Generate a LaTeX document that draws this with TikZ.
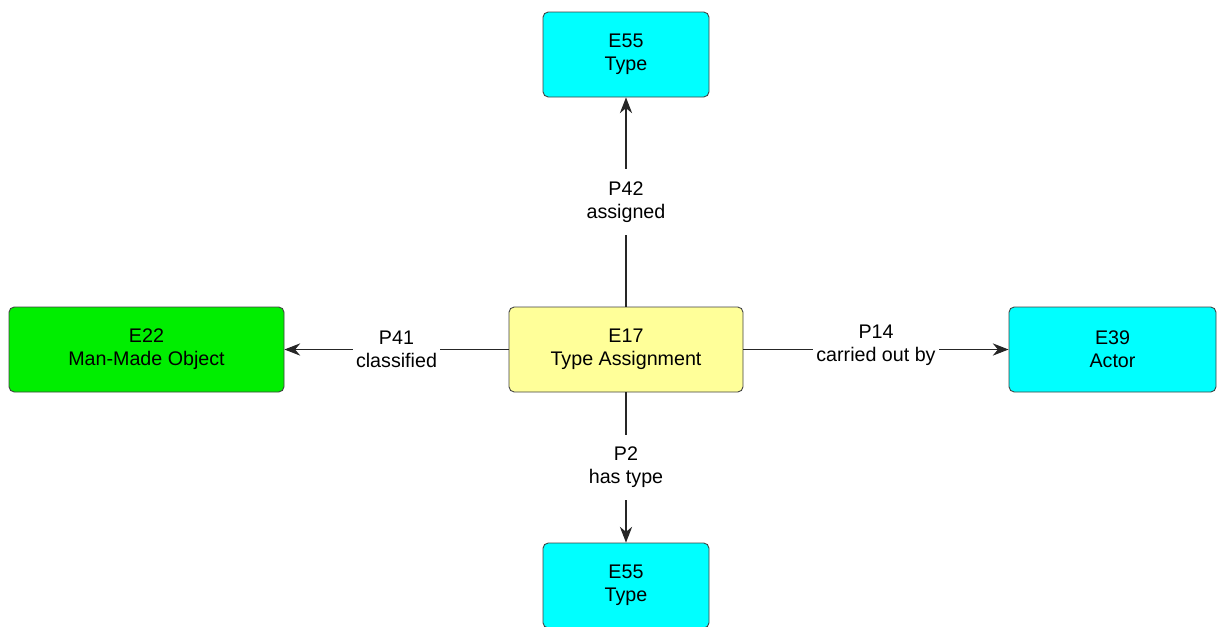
\documentclass[tikz,border=0pt]{standalone}
\usepackage{fontspec}
\setmainfont{Liberation Sans}
\usetikzlibrary{arrows.meta}
\definecolor{classcyan}{RGB}{0,255,255}
\definecolor{classgreen}{RGB}{0,238,0}
\definecolor{eventyellow}{RGB}{255,255,153}
\tikzset{
  entity/.style={
    draw=black!75, rounded corners=3pt, line width=0.5pt,
    minimum height=85*0.02cm, align=center,
    font=\fontsize{11.2}{13}\selectfont
  },
  property/.style={
    fill=white, align=center, inner xsep=2pt, inner ysep=7pt,
    font=\fontsize{11.2}{13}\selectfont
  },
  link/.style={draw=black!85, line width=0.6pt, -{Stealth[length=9pt,width=7pt]}}
}
\begin{document}
\begin{tikzpicture}[x=0.02cm, y=-0.02cm]
    \useasboundingbox (0,0) rectangle (1218,626);

    \node[entity, fill=eventyellow, minimum width=234*0.02cm] (e17) at (626,349.5) {E17\\Type Assignment};
    \node[entity, fill=classcyan, minimum width=166*0.02cm] (typetop) at (626,54.5) {E55\\Type};
    \node[entity, fill=classgreen, minimum width=275*0.02cm] (e22) at (146.5,349.5) {E22\\Man-Made Object};
    \node[entity, fill=classcyan, minimum width=207*0.02cm] (e39) at (1112.5,349.5) {E39\\Actor};
    \node[entity, fill=classcyan, minimum width=166*0.02cm] (typebot) at (626,585.5) {E55\\Type};

    \draw[link] (e17) -- node[property] {P42\\assigned} (typetop);
    \draw[link] (e17) -- node[property] {P41\\classified} (e22);
    \draw[link] (e17) -- node[property, yshift=4*0.02cm] {P14\\carried out by} (e39);
    \draw[link] (e17) -- node[property] {P2\\has type} (typebot);
\end{tikzpicture}
\end{document}
